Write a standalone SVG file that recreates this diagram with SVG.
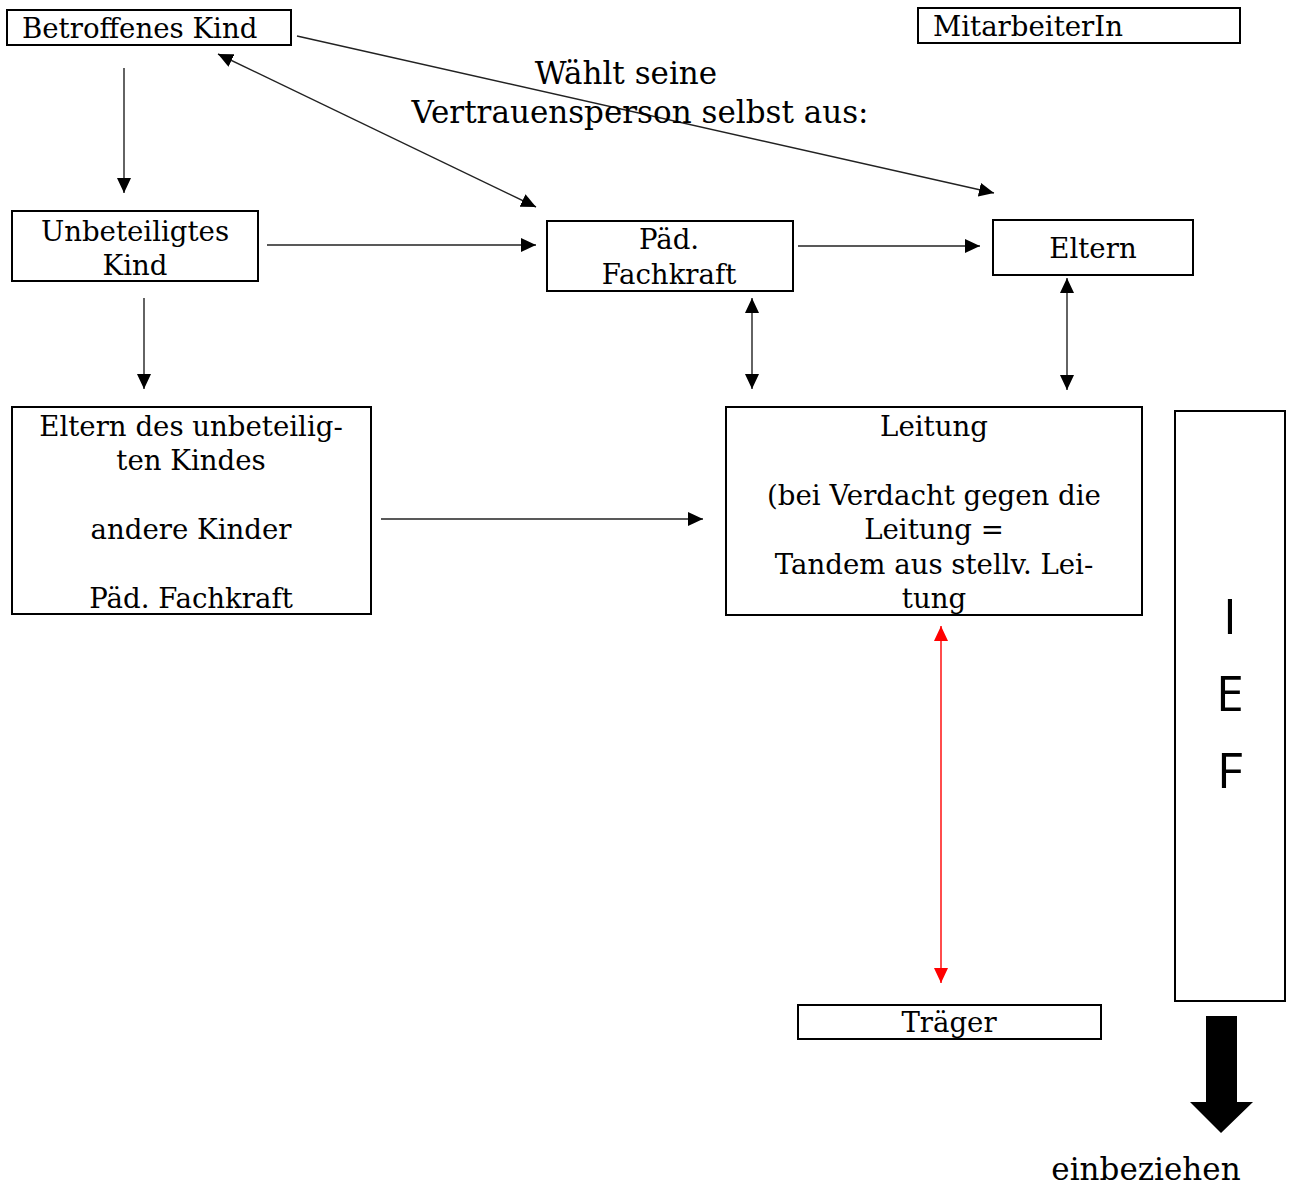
<svg xmlns="http://www.w3.org/2000/svg" width="1292" height="1185" viewBox="0 0 1292 1185">
<defs>
<style>
.box{fill:#fff;stroke:#000;stroke-width:2}
.t{font-family:"DejaVu Serif","Liberation Serif",serif;font-size:27.6px;fill:#000}
.big{font-size:31px}
.c{text-anchor:middle}
.ln{stroke:#222;stroke-width:1.4;fill:none}
.red{stroke:#ff0000;stroke-width:1.4;fill:none}
.sans{font-family:"Open Sans","Liberation Sans",sans-serif;font-size:50px;text-anchor:middle;fill:#000}
</style>
<marker id="ah" markerUnits="userSpaceOnUse" markerWidth="16" markerHeight="14" refX="15" refY="7" orient="auto-start-reverse" viewBox="0 0 16 14">
<path d="M0,0 L15,7 L0,14 z" fill="#000"/>
</marker>
<marker id="ahr" markerUnits="userSpaceOnUse" markerWidth="16" markerHeight="14" refX="15" refY="7" orient="auto-start-reverse" viewBox="0 0 16 14">
<path d="M0,0 L15,7 L0,14 z" fill="#ff0000"/>
</marker>
</defs>
<rect width="1292" height="1185" fill="#fff"/>

<g id="connectors">
<line class="ln" x1="124" y1="68" x2="124" y2="193" marker-end="url(#ah)"/>
<line class="ln" x1="144" y1="298" x2="144" y2="389" marker-end="url(#ah)"/>
<line class="ln" x1="218" y1="54" x2="536" y2="207" marker-start="url(#ah)" marker-end="url(#ah)"/>
<line class="ln" x1="297" y1="36" x2="994" y2="193" marker-end="url(#ah)"/>
<line class="ln" x1="267" y1="245" x2="536" y2="245" marker-end="url(#ah)"/>
<line class="ln" x1="798" y1="246" x2="980" y2="246" marker-end="url(#ah)"/>
<line class="ln" x1="752" y1="298" x2="752" y2="389" marker-start="url(#ah)" marker-end="url(#ah)"/>
<line class="ln" x1="1067" y1="278" x2="1067" y2="390" marker-start="url(#ah)" marker-end="url(#ah)"/>
<line class="ln" x1="381" y1="519" x2="703" y2="519" marker-end="url(#ah)"/>
<line class="red" x1="941" y1="626" x2="941" y2="983" marker-start="url(#ahr)" marker-end="url(#ahr)"/>
<polygon points="1206,1016 1237,1016 1237,1102 1253,1102 1221,1133 1190,1102 1206,1102" fill="#000"/>
</g>

<g id="n-betroffen">
<rect class="box" x="7" y="10" width="284" height="35"/>
<text class="t" x="22" y="38">Betroffenes Kind</text>
</g>
<g id="n-mitarbeiter">
<rect class="box" x="918" y="8" width="322" height="35"/>
<text class="t" x="933" y="36">MitarbeiterIn</text>
</g>
<g id="label-waehlt">
<text class="t big c" x="626" y="84">Wählt seine</text>
<text class="t big c" x="640" y="123">Vertrauensperson selbst aus:</text>
</g>
<g id="n-unbeteiligt">
<rect class="box" x="12" y="211" width="246" height="70"/>
<text class="t c" x="135" y="241">Unbeteiligtes</text>
<text class="t c" x="135" y="275">Kind</text>
</g>
<g id="n-paed">
<rect class="box" x="547" y="221" width="246" height="70"/>
<text class="t c" x="669" y="249">Päd.</text>
<text class="t c" x="669" y="284">Fachkraft</text>
</g>
<g id="n-eltern">
<rect class="box" x="993" y="220" width="200" height="55"/>
<text class="t c" x="1093" y="258">Eltern</text>
</g>
<g id="n-eltern-unbeteiligt">
<rect class="box" x="12" y="407" width="359" height="207"/>
<text class="t c" x="191" y="436">Eltern des unbeteilig-</text>
<text class="t c" x="191" y="470">ten Kindes</text>
<text class="t c" x="191" y="539">andere Kinder</text>
<text class="t c" x="191" y="608">Päd. Fachkraft</text>
</g>
<g id="n-leitung">
<rect class="box" x="726" y="407" width="416" height="208"/>
<text class="t c" x="934" y="436">Leitung</text>
<text class="t c" x="934" y="505">(bei Verdacht gegen die</text>
<text class="t c" x="934" y="539">Leitung =</text>
<text class="t c" x="934" y="574">Tandem aus stellv. Lei-</text>
<text class="t c" x="934" y="608">tung</text>
</g>
<g id="n-ief">
<rect class="box" x="1175" y="411" width="110" height="590"/>
<text class="sans" x="1230" y="634">I</text>
<text class="sans" x="1230" y="711">E</text>
<text class="sans" x="1230" y="788">F</text>
</g>
<g id="n-traeger">
<rect class="box" x="798" y="1005" width="303" height="34"/>
<text class="t c" x="949" y="1032">Träger</text>
</g>
<g id="label-einbeziehen">
<text class="t big c" x="1146" y="1180">einbeziehen</text>
</g>
</svg>
